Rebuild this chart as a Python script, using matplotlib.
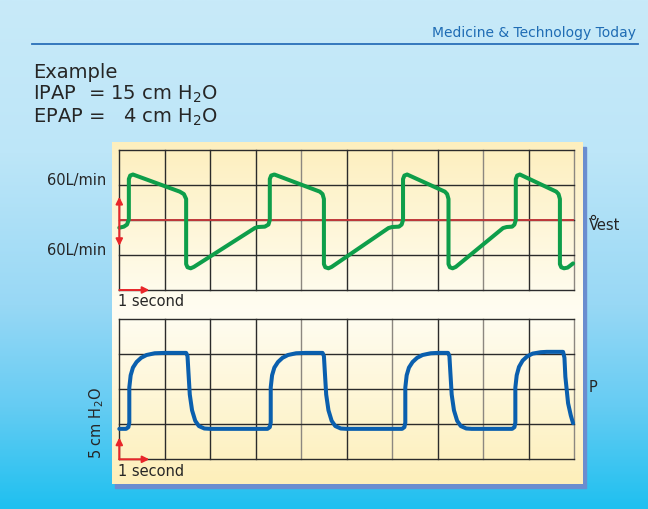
import numpy as np
import matplotlib
matplotlib.use("Agg")
import matplotlib.pyplot as plt
from matplotlib.colors import LinearSegmentedColormap
from matplotlib.patches import Rectangle

# flow trace (grid units: x = divisions, y = divisions, red baseline at 2)
flow_t = [0.00, 0.10, 0.17, 0.21, 0.21, 0.24, 0.30, 1.33, 1.42, 1.47, 1.47, 1.50, 1.57, 1.64,
          2.98, 3.05, 3.20, 3.28, 3.31, 3.31, 3.34, 3.41, 4.41, 4.47, 4.50, 4.50, 4.53, 4.60, 4.67,
          5.92, 6.00, 6.15, 6.21, 6.24, 6.24, 6.27, 6.33, 7.16, 7.21, 7.24, 7.24, 7.27, 7.33, 7.40,
          8.44, 8.52, 8.64, 8.69, 8.72, 8.72, 8.75, 8.81, 9.61, 9.66, 9.69, 9.69, 9.72, 9.78, 9.86, 9.98]
flow_v = [1.78, 1.81, 1.87, 2.02, 3.17, 3.27, 3.30, 2.81, 2.74, 2.60, 0.74, 0.65, 0.62, 0.66,
          1.77, 1.80, 1.81, 1.87, 2.00, 3.17, 3.27, 3.30, 2.81, 2.74, 2.60, 0.74, 0.65, 0.62, 0.66,
          1.77, 1.80, 1.81, 1.87, 2.00, 3.17, 3.27, 3.30, 2.81, 2.74, 2.60, 0.74, 0.65, 0.62, 0.66,
          1.77, 1.80, 1.81, 1.87, 2.00, 3.17, 3.27, 3.30, 2.81, 2.74, 2.60, 0.74, 0.65, 0.62, 0.64, 0.76]

# pressure trace (1 division = 5 cm H2O)
pres_t = [0.00, 0.15, 0.20, 0.22, 0.22, 0.25, 0.30, 0.38, 0.48, 0.60, 0.78, 1.00, 1.47, 1.50, 1.52,
          1.55, 1.60, 1.67, 1.75, 1.87, 2.00,
          3.26, 3.31, 3.33, 3.33, 3.36, 3.41, 3.49, 3.59, 3.71, 3.89, 4.10, 4.47, 4.50, 4.52,
          4.55, 4.60, 4.67, 4.75, 4.87, 5.00,
          6.22, 6.27, 6.29, 6.29, 6.32, 6.37, 6.45, 6.55, 6.67, 6.85, 7.00, 7.23, 7.26, 7.28,
          7.31, 7.36, 7.43, 7.51, 7.63, 7.75,
          8.64, 8.69, 8.71, 8.71, 8.74, 8.79, 8.87, 8.97, 9.09, 9.27, 9.40, 9.76, 9.79, 9.81,
          9.87, 9.93, 9.98]
pres_v = [0.87, 0.87, 0.92, 1.05, 2.05, 2.40, 2.62, 2.78, 2.90, 2.98, 3.03, 3.04, 3.04, 2.95, 2.50,
          1.85, 1.40, 1.10, 0.95, 0.88, 0.87,
          0.87, 0.92, 1.05, 2.05, 2.40, 2.62, 2.78, 2.90, 2.98, 3.03, 3.04, 3.04, 2.95, 2.50,
          1.85, 1.40, 1.10, 0.95, 0.88, 0.87,
          0.87, 0.92, 1.05, 2.05, 2.40, 2.62, 2.78, 2.90, 2.98, 3.03, 3.04, 3.04, 2.95, 2.50,
          1.85, 1.40, 1.10, 0.95, 0.88, 0.87,
          0.87, 0.92, 1.05, 2.05, 2.40, 2.64, 2.82, 2.94, 3.02, 3.06, 3.07, 3.07, 2.90, 2.36,
          1.60, 1.25, 1.03]

W, H = 648, 509
fig = plt.figure(figsize=(W / 100, H / 100), dpi=100)

# background + panel, drawn in pixel coordinates
bg = fig.add_axes([0, 0, 1, 1])
bg.set_axis_off()
sky = LinearSegmentedColormap.from_list("sky", [(0, "#c8eaf9"), (0.3, "#bde6f8"), (0.6, "#98d8f5"),
                                                (0.8, "#65ccf3"), (1.0, "#1fc0f0")])
grad = np.linspace(0, 1, 256).reshape(-1, 1)
bg.imshow(grad, cmap=sky, extent=[0, W, H, 0], aspect="auto")
bg.add_patch(Rectangle((115, 146.5), 470.5, 341.5, color="#6b8dcf", zorder=2))
cream = LinearSegmentedColormap.from_list("cream", [(0, "#fdefbe"), (0.45, "#fffcee"), (0.5, "#fffdf2"),
                                                    (1.0, "#fdefba")])
bg.imshow(grad, cmap=cream, extent=[112, 582.5, 484, 142.5], aspect="auto", zorder=3)
bg.plot([32, 638], [44, 44], color="#2a6fb8", lw=1.3)
bg.set_xlim(0, W)
bg.set_ylim(H, 0)

txt = "#262626"
bg.text(636, 33, "Medicine & Technology Today", color="#1f6cb4", fontsize=10, ha="right", va="center")
bg.text(33, 72, "Example", color=txt, fontsize=14, va="center")
bg.text(33, 94, "IPAP  = 15 cm H$_2$O", color=txt, fontsize=14, va="center")
bg.text(33, 117, "EPAP =   4 cm H$_2$O", color=txt, fontsize=14, va="center")
bg.text(106, 181, "60L/min", color=txt, fontsize=10.5, ha="right", va="center", zorder=5)
bg.text(106, 251, "60L/min", color=txt, fontsize=10.5, ha="right", va="center", zorder=5)
bg.text(97, 423, "5 cm H$_2$O", color=txt, fontsize=10.5, ha="center", va="center", rotation=90, zorder=5)
bg.text(117.5, 302, "1 second", color=txt, fontsize=10.5, va="center", zorder=5)
bg.text(117.5, 471, "1 second", color=txt, fontsize=10.5, va="center", zorder=5)
bg.text(589, 225.5, "Vest", color=txt, fontsize=10.5, va="center", zorder=5)
bg.plot([592.5], [217], marker="o", ms=3, mfc="none", mec=txt, mew=0.8, zorder=5)
bg.text(589, 387.5, "P", color=txt, fontsize=10.5, va="center", zorder=5)


def grid_axes(top, bottom):
    ax = fig.add_axes([119.3 / W, (H - bottom) / H, (574 - 119.3) / W, (bottom - top) / H])
    ax.set_axis_off()
    ax.set_xlim(0, 10)
    ax.set_ylim(0, 4)
    for i in range(11):
        c = "#8c8780" if i in (4, 6, 8, 10) else "#2b2b2b"
        ax.plot([i, i], [0, 4], color=c, lw=1.0, clip_on=False, zorder=1)
    for j in range(5):
        ax.plot([0, 10], [j, j], color="#2b2b2b", lw=1.0, clip_on=False, zorder=1)
    return ax


red = "#e8262a"


def red_arrow(ax, start, end, style):
    a = ax.annotate("", xy=end, xytext=start, annotation_clip=False,
                    arrowprops=dict(arrowstyle=style, color=red, lw=1.4, mutation_scale=10,
                                    shrinkA=0, shrinkB=0))
    a.arrow_patch.set_clip_on(False)
    a.arrow_patch.set_zorder(4)


ax1 = grid_axes(150, 290)
ax1.plot([0, 10], [2, 2], color="#c0393b", lw=1.4, zorder=2)
ax1.plot(flow_t, flow_v, color="#0e9e4a", lw=2.9, solid_joinstyle="round", solid_capstyle="round",
         clip_on=False, zorder=3)
red_arrow(ax1, (0, 1.26), (0, 2.66), "<|-|>")
red_arrow(ax1, (0, 0), (0.66, 0), "-|>")

ax2 = grid_axes(319.3, 459.3)
ax2.plot(pres_t, pres_v, color="#0a5fae", lw=2.9, solid_joinstyle="round", solid_capstyle="round",
         clip_on=False, zorder=3)
red_arrow(ax2, (0, 0), (0, 0.62), "-|>")
red_arrow(ax2, (0, 0), (0.66, 0), "-|>")

fig.savefig("out.png", dpi=100)
